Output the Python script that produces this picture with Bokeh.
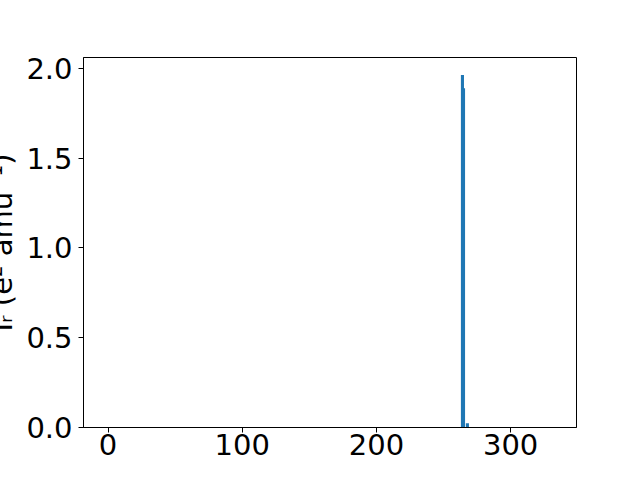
from bokeh.plotting import figure
from bokeh.models import Range1d, FixedTicker, PrintfTickFormatter, Title, Label
from bokeh.embed import file_html
from bokeh.resources import INLINE

# Data
freqs = [264.1, 264.9, 267.8]          # cm^-1
intensities = [1.963, 1.89, 0.024]      # I_R

x_ticks = [0, 100, 200, 300]
y_ticks = [0.0, 0.5, 1.0, 1.5, 2.0]

y_label = "I\u1d63 (e\u00b2 amu\u207b\u00b9)"

FONT = "DejaVu Sans"
FS = "29px"
FS_SMALL = "20px"

p = figure(width=640, height=480, output_backend="svg", toolbar_location=None,
           x_range=Range1d(-18.3, 349.1), y_range=Range1d(0, 2.061),
           min_border_left=80, min_border_right=64, min_border_top=57, min_border_bottom=53)

p.vbar(x=freqs, top=intensities, width=2.3, bottom=0,
       fill_color="#1f77b4", line_color=None)

p.grid.visible = False
p.outline_line_color = "black"
p.outline_line_width = 1
p.outline_line_alpha = 1
p.background_fill_color = "white"
p.border_fill_color = "white"

for ax in (p.xaxis[0], p.yaxis[0]):
    ax.axis_line_color = "black"
    ax.axis_line_width = 1
    ax.major_tick_line_color = "black"
    ax.major_tick_line_width = 1
    ax.major_tick_out = 5
    ax.major_tick_in = 0
    ax.minor_tick_line_color = None
    ax.major_label_text_font = FONT
    ax.major_label_text_font_size = FS
    ax.major_label_text_color = "black"

p.xaxis[0].ticker = FixedTicker(ticks=x_ticks)
p.xaxis[0].formatter = PrintfTickFormatter(format="%d")
p.xaxis[0].major_label_standoff = 1
p.yaxis[0].ticker = FixedTicker(ticks=y_ticks)
p.yaxis[0].formatter = PrintfTickFormatter(format="%.1f")
p.yaxis[0].major_label_standoff = 6

# blank (space-only) spacer panel, so the y title sits further out and is cut by the edge
spacer = Title(text=" ", standoff=-14, text_font=FONT, text_font_size=FS,
               text_font_style="normal", text_color="white")
p.add_layout(spacer, "left")

yt = Title(text=y_label, align="center", vertical_align="bottom", standoff=-35,
           text_font=FONT, text_font_size=FS, text_font_style="normal", text_color="black")
p.add_layout(yt, "left")

# x-axis title: lies almost entirely below the page edge in the reference
def dx(sx):
    return -18.3 + (sx - 80.3) / 1.35

def dy(sy):
    return (427.0 - sy) / 179.55

def lab(text, sx, sy, size=FS):
    p.add_layout(Label(x=dx(sx), y=dy(sy), text=text,
                       text_align="left", text_baseline="alphabetic",
                       text_font=FONT, text_font_size=size, text_color="black"))

lab("Frequency", 193, 498)
lab("(cm", 364, 498)
lab("\u22121", 424, 487, size=FS_SMALL)
lab(")", 449, 498)

open("out.html", "w").write(file_html(p, INLINE))
